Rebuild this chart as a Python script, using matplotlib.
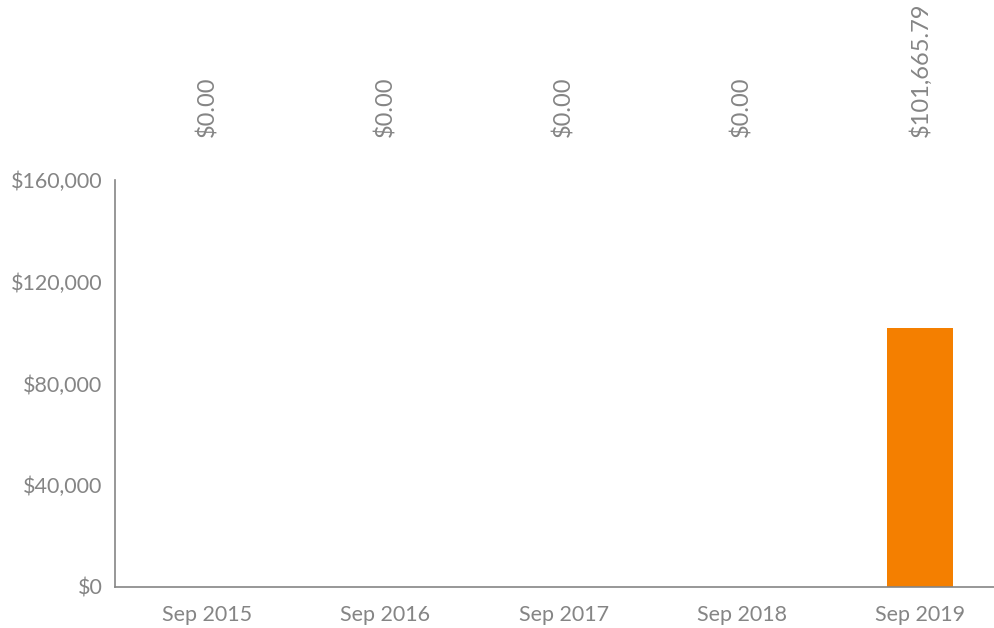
import matplotlib
matplotlib.use('Agg')
import matplotlib.pyplot as plt

periods = ['Sep 2015', 'Sep 2016', 'Sep 2017', 'Sep 2018', 'Sep 2019']
amounts = [0.0, 0.0, 0.0, 0.0, 101665.79]
y_ticks = [0, 40000, 80000, 120000, 160000]

plt.rcParams['font.family'] = ['Lato', 'DejaVu Sans']
grey = '#858585'

fig = plt.figure(figsize=(9.95, 6.28), dpi=100)
ax = fig.add_axes([0.1156, 0.0653, 0.8844, 0.6481])

x = list(range(len(periods)))
ax.bar(x, amounts, width=0.37, color='#f47f00')

ax.set_ylim(0, 160000)
ax.set_xlim(-0.516, 4.42)
ax.set_yticks(y_ticks)
ax.set_yticklabels([f'${v:,.0f}' for v in y_ticks])
ax.set_xticks(x)
ax.set_xticklabels(periods)
ax.tick_params(length=0, colors=grey, labelsize=15.5)
ax.tick_params(axis='y', pad=9)
ax.tick_params(axis='x', pad=13)

for s in ['top', 'right']:
    ax.spines[s].set_visible(False)
for s in ['left', 'bottom']:
    ax.spines[s].set_color(grey)
    ax.spines[s].set_linewidth(1.2)

for xi, v in zip(x, amounts):
    ax.annotate(f'${v:,.2f}', xy=(xi, 1.0), xycoords=('data', 'axes fraction'),
                xytext=(0, 31), textcoords='offset points', rotation=90,
                ha='center', va='bottom', color=grey, fontsize=17)

fig.savefig('out.png', dpi=100)
